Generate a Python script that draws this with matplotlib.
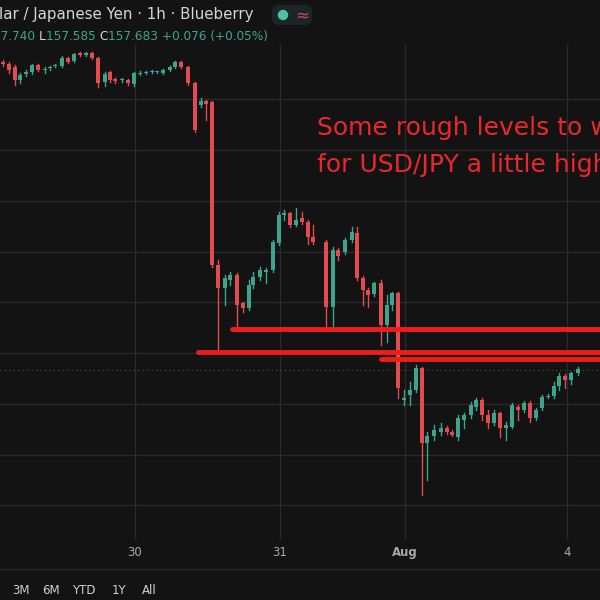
import matplotlib
matplotlib.use("Agg")
import matplotlib.pyplot as plt
from matplotlib import transforms
from matplotlib.patches import FancyBboxPatch, Circle

x = [3,9,15,20,26,32,38,45,50,55,62,68,74,80,86,92,98,105,110,115,122,128,134,140,146,152,157,163,170,175,181,188,195,201,206,212,
     218,225,230,237,243,249,253,260,266,273,279,284,290,296,302,308,313,326,333,338,345,352,357,363,368,374,381,387,392,398,
     404,410,416,422,427,434,441,447,452,458,464,471,476,482,488,494,500,506,512,518,524,530,536,542,548,554,559,565,571,578]
o = [159.38,159.36,159.33,159.20,159.26,159.28,159.35,159.30,159.32,159.34,159.34,159.42,159.39,159.47,159.45,159.47,159.42,159.18,159.28,159.21,159.20,159.20,159.16,159.26,159.27,159.28,159.28,159.27,159.30,159.33,159.38,159.33,159.17,158.95,158.99,158.98,
     157.35,157.12,157.20,157.25,156.97,156.92,157.15,157.23,157.28,157.30,157.57,157.85,157.87,157.75,157.82,157.78,157.63,157.58,156.93,157.50,157.48,157.60,157.67,157.22,157.10,157.06,157.17,156.75,156.95,157.07,
     156.00,156.05,156.10,156.32,155.57,155.64,155.68,155.72,155.68,155.63,155.80,155.85,155.93,156.00,155.85,155.77,155.87,155.72,155.73,155.93,155.90,155.97,155.82,155.92,156.03,156.04,156.14,156.24,156.20,156.27]
c = [159.36,159.30,159.20,159.25,159.28,159.35,159.30,159.31,159.33,159.35,159.42,159.38,159.46,159.45,159.47,159.42,159.17,159.26,159.20,159.19,159.20,159.17,159.27,159.27,159.28,159.28,159.28,159.30,159.33,159.38,159.33,159.17,158.70,158.99,158.96,157.35,
     157.12,157.22,157.25,156.95,156.92,157.15,157.23,157.30,157.30,157.58,157.85,157.87,157.75,157.80,157.78,157.63,157.58,156.93,157.50,157.44,157.60,157.68,157.22,157.10,157.05,157.17,156.75,156.95,157.07,156.12,
     156.02,156.10,156.32,155.57,155.64,155.70,155.72,155.68,155.65,155.82,155.85,155.95,156.00,155.85,155.77,155.87,155.72,155.75,155.95,155.90,155.97,155.82,155.90,156.03,156.04,156.14,156.24,156.20,156.27,156.31]
h = [159.40,159.38,159.35,159.27,159.30,159.36,159.36,159.33,159.34,159.36,159.44,159.43,159.47,159.48,159.48,159.48,159.43,159.28,159.29,159.22,159.22,159.21,159.28,159.29,159.29,159.30,159.29,159.31,159.34,159.39,159.39,159.34,159.18,159.02,159.00,158.99,
     157.40,157.25,157.28,157.27,156.98,157.20,157.28,157.33,157.32,157.60,157.88,157.90,157.88,157.92,157.88,157.80,157.75,157.60,157.53,157.52,157.62,157.73,157.73,157.24,157.12,157.18,157.20,157.05,157.08,157.08,
     156.10,156.18,156.35,156.33,155.68,155.75,155.77,155.74,155.70,155.85,155.87,155.98,156.02,156.02,155.90,155.90,155.88,155.78,155.97,155.95,155.99,155.99,155.92,156.05,156.06,156.18,156.27,156.26,156.28,156.33]
l = [159.34,159.27,159.15,159.17,159.24,159.26,159.29,159.27,159.30,159.33,159.33,159.37,159.38,159.44,159.44,159.41,159.13,159.14,159.18,159.17,159.18,159.15,159.14,159.25,159.26,159.27,159.27,159.26,159.29,159.32,159.32,159.15,158.68,158.93,158.80,157.33,
     156.50,156.95,157.15,156.73,156.88,156.90,157.12,157.20,157.17,157.28,157.55,157.80,157.73,157.74,157.76,157.56,157.56,156.73,156.73,157.40,157.46,157.58,157.20,156.95,156.93,157.04,156.55,156.58,156.90,156.02,
     155.95,155.95,156.08,155.05,155.20,155.60,155.65,155.66,155.64,155.60,155.72,155.82,155.90,155.80,155.72,155.75,155.63,155.60,155.72,155.80,155.88,155.78,155.80,155.90,156.02,156.02,156.10,156.12,156.16,156.25]

level_prices = [156.71, 156.48, 156.41]
level_starts = [232, 198, 381]
last_price = 156.30
date_labels = ["30", "31", "Aug", "4"]
date_pos = [135, 280, 405, 567]
grid_prices = [159.01,158.50,157.99,157.48,156.98,156.47,155.96,155.45,154.95]
ranges = ["3M", "6M", "YTD", "1Y", "All"]
range_pos = [12, 42, 72, 112, 142]

BG = "#131313"; UP = "#3aa58c"; DN = "#e24b50"; GRID = "#2a2a2a"

fig = plt.figure(figsize=(6, 6), dpi=100, facecolor=BG)
ax = fig.add_axes([0, 0, 1, 1], facecolor=BG)
ax.set_xlim(0, 600); ax.set_ylim(154, 160)
ax.axis("off")

for gp in grid_prices:
    ax.axhline(gp, color=GRID, lw=1, zorder=0)
for dp in date_pos:
    ax.plot([dp, dp], [154.62, 159.55], color=GRID, lw=1, zorder=0)
ax.axhline(154.31, color=GRID, lw=1)
ax.axhline(last_price, color="#555555", lw=0.8, ls=(0, (1, 3)))

for xi, oi, ci, hi, li in zip(x, o, c, h, l):
    col = UP if ci >= oi else DN
    ax.plot([xi, xi], [li, hi], color=col, lw=1, zorder=2)
    bot = min(oi, ci); ht = max(abs(ci - oi), 0.012)
    ax.bar(xi, ht, bottom=bot, width=4.6, color=col, zorder=3)

for lp, ls_ in zip(level_prices, level_starts):
    ax.plot([ls_, 605], [lp, lp], color="#f01c1c", lw=3.5, solid_capstyle="round", zorder=4)

for lab, dp in zip(date_labels, date_pos):
    ax.text(dp, 154.47, lab, color="#a8a8a8", fontsize=8.5, ha="center", va="center",
            fontweight="semibold" if lab == "Aug" else "normal")
for r, rp in zip(ranges, range_pos):
    ax.text(rp, 154.09, r, color="#cfcfcf", fontsize=8.5, ha="left", va="center")

ax.text(317, 158.72, "Some rough levels to watch", color="#e8282c", fontsize=18, va="center", clip_on=True)
ax.text(317, 158.35, "for USD/JPY a little higher", color="#e8282c", fontsize=18, va="center", clip_on=True)

ax.text(-1, 159.85, "lar / Japanese Yen · 1h · Blueberry", color="#d6d6d6", fontsize=10.8, va="center", ha="left")

parts = [("57.740 ", UP), ("L", "#d6d6d6"), ("157.585 ", UP), ("C", "#d6d6d6"), ("157.683 ", UP), ("+0.076 (+0.05%)", UP)]
tr = ax.transData
for s, col in parts:
    t = ax.text(-7, 159.63, s, color=col, fontsize=8.7, va="center", transform=tr)
    fig.canvas.draw()
    bb = t.get_window_extent()
    tr = transforms.offset_copy(t.get_transform(), fig=fig, x=bb.width, units="dots")

pix = transforms.Affine2D().scale(1, -1).translate(0, 600)
ax.add_patch(FancyBboxPatch((272, 5), 40, 20, boxstyle="round,pad=0,rounding_size=7",
                            facecolor="#1c2624", edgecolor="none", transform=pix, zorder=5))
ax.add_patch(Circle((283, 15), 4.5, color="#4cc3a5", transform=pix, zorder=6))
ax.text(302, 15, "≈", color="#d0407a", fontsize=12, ha="center", va="center", transform=pix, zorder=6)

fig.savefig("out.png", dpi=100, facecolor=BG)
